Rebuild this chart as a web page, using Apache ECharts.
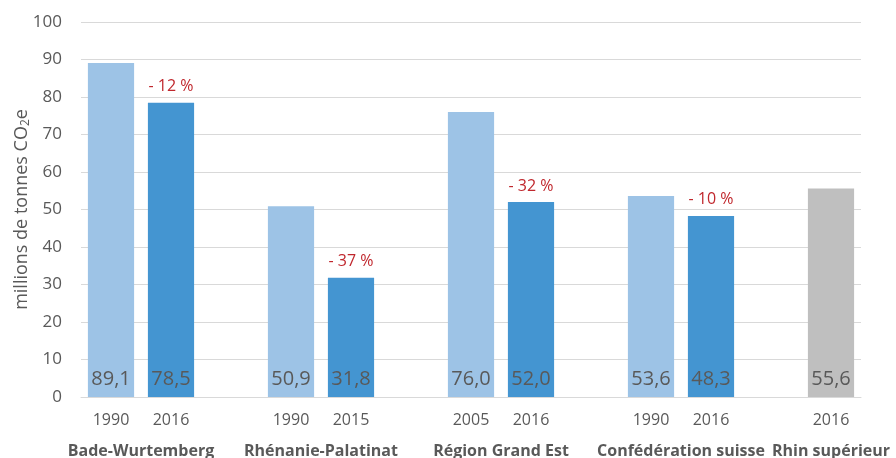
<!DOCTYPE html>
<html>
<head>
<meta charset="utf-8">
<script src="https://cdn.jsdelivr.net/npm/echarts@6/dist/echarts.min.js"></script>
<style>
  html, body { margin: 0; padding: 0; background: #fff; }
  #chart { width: 896px; height: 458px; }
</style>
</head>
<body>
<div id="chart"></div>
<script>
// Emissions by territory, one slot per bar, empty slots separate the groups
const years = ['1990', '2016', '', '1990', '2015', '', '2005', '2016', '', '1990', '2016', '', '2016'];
const emissions = [89.1, 78.5, null, 50.9, 31.8, null, 76.0, 52.0, null, 53.6, 48.3, null, 55.6];
// Change since the reference year, shown above the latest bar of each group
const changes = [null, -12, null, null, -37, null, null, -32, null, null, -10, null, null];
// Kind of bar: reference year, latest year, total for the whole region
const kinds = ['ref', 'now', null, 'ref', 'now', null, 'ref', 'now', null, 'ref', 'now', null, 'total'];
// Territory names and the slot position (in bar widths) where each is centred
const regions = ['Bade-Wurtemberg', 'Rhénanie-Palatinat', 'Région Grand Est', 'Confédération suisse', 'Rhin supérieur'];
const regionPos = [1, 4, 7, 10, 12.5];
const yTicks = [0, 10, 20, 30, 40, 50, 60, 70, 80, 90, 100];

const colors = { ref: '#9DC3E6', now: '#4495D1', total: '#BFBFBF' };
const textGrey = '#595959';
const font = '"Open Sans", "Liberation Sans", sans-serif';

const fmt = v => v.toFixed(1).replace('.', ',');

const barData = emissions.map((v, i) => v == null ? '-' : {
  value: v,
  itemStyle: { color: colors[kinds[i]] }
});
const changeData = emissions.map((v, i) => changes[i] == null ? '-' : {
  value: v,
  label: { formatter: '- ' + Math.abs(changes[i]) + ' %' }
});

const chart = echarts.init(document.getElementById('chart'), null, { renderer: 'canvas' });
chart.setOption({
  animation: false,
  grid: { left: 81, right: 35, top: 22, bottom: 61, containLabel: false, outerBoundsMode: 'none' },
  xAxis: [{
    type: 'category',
    data: years,
    axisTick: { show: false },
    axisLine: { lineStyle: { color: '#D9D9D9', width: 1 } },
    axisLabel: { color: textGrey, fontFamily: font, fontSize: 16, margin: 15, interval: 0 }
  }, {
    type: 'value',
    min: 0,
    max: years.length,
    interval: 0.5,
    position: 'bottom',
    offset: 38,
    axisLine: { show: false },
    axisTick: { show: false },
    splitLine: { show: false },
    axisLabel: {
      color: textGrey, fontFamily: font, fontSize: 16, fontWeight: 'bold',
      showMinLabel: true, showMaxLabel: true,
      formatter: v => {
        const k = regionPos.indexOf(v);
        return k >= 0 ? regions[k] : '';
      }
    }
  }],
  yAxis: {
    type: 'value',
    min: yTicks[0],
    max: yTicks[yTicks.length - 1],
    interval: yTicks[1] - yTicks[0],
    axisLine: { show: false },
    axisTick: { show: false },
    splitLine: { lineStyle: { color: '#D9D9D9', width: 1 } },
    axisLabel: { color: textGrey, fontFamily: font, fontSize: 17, margin: 19 },
    name: 'millions de tonnes CO{sub|2}e',
    nameLocation: 'middle',
    nameGap: 49,
    nameRotate: 90,
    nameMoveOverlap: false,
    nameTextStyle: {
      color: textGrey, fontFamily: font, fontSize: 18,
      rich: {
        sub: { fontSize: 12, verticalAlign: 'bottom', color: textGrey, fontFamily: font, padding: [9, 0, 0, 0] }
      }
    }
  },
  series: [{
    type: 'bar',
    xAxisIndex: 0,
    data: barData,
    barCategoryGap: '23%',
    label: {
      show: true,
      position: 'insideBottom',
      distance: 8,
      color: textGrey,
      fontFamily: font,
      fontSize: 20,
      formatter: p => fmt(p.value)
    }
  }, {
    type: 'bar',
    xAxisIndex: 0,
    data: changeData,
    barCategoryGap: '23%',
    barGap: '-100%',
    itemStyle: { color: 'rgba(0,0,0,0)' },
    label: {
      show: true,
      position: 'top',
      distance: 8,
      color: '#C0272D',
      fontFamily: font,
      fontSize: 16
    },
    silent: true
  }]
});
</script>
</body>
</html>
